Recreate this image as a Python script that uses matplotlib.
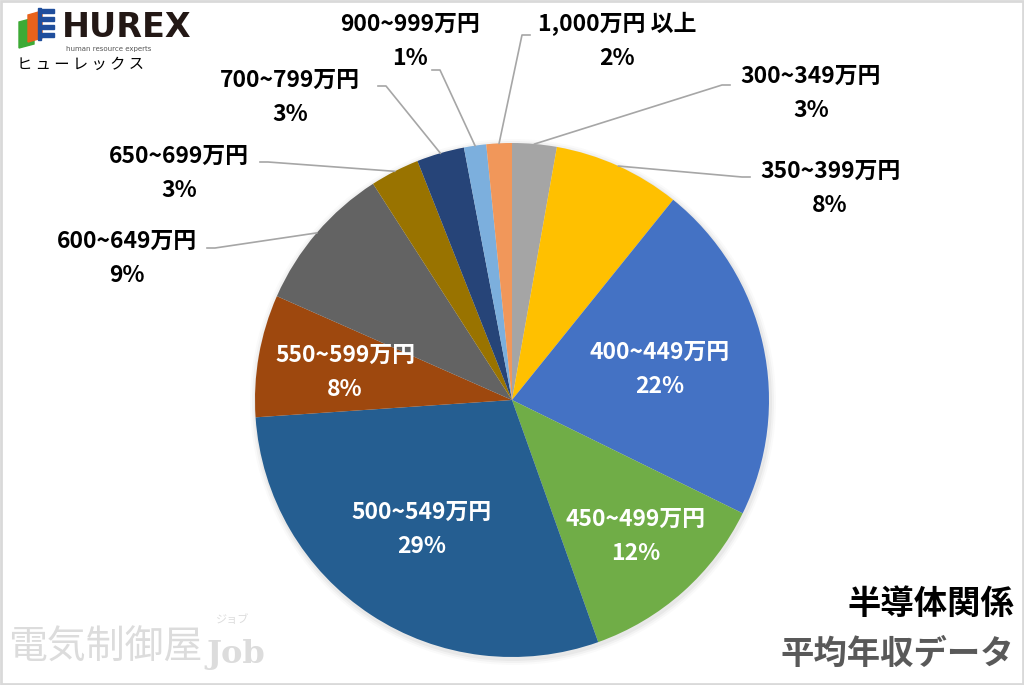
import matplotlib
matplotlib.use("Agg")
import matplotlib.pyplot as plt
from matplotlib.patches import Polygon, Rectangle, Circle
import numpy as np

plt.rcParams['font.family'] = ['Noto Sans CJK JP', 'DejaVu Sans']

categories = ["300~349万円", "350~399万円", "400~449万円", "450~499万円",
              "500~549万円", "550~599万円", "600~649万円", "650~699万円",
              "700~799万円", "900~999万円", "1,000万円 以上"]
values = [2.8, 8.0, 21.5, 12.3, 29.4, 7.7, 9.3, 3.1, 3.0, 1.4, 1.6]
pct_labels = ["3%", "8%", "22%", "12%", "29%", "8%", "9%", "3%", "3%", "1%", "2%"]
colors = ["#A5A5A5", "#FFC000", "#4472C4", "#70AD47", "#255E91", "#9E480E",
          "#636363", "#997300", "#264478", "#7CAFDD", "#F1975A"]

W, H = 1024, 685
fig = plt.figure(figsize=(W / 100, H / 100), dpi=100)
ax = fig.add_axes([0, 0, 1, 1])

def Y(y):
    return H - y

cx, cy, R = 512, Y(400), 257

# soft shadow
for i, a in enumerate([0.04, 0.03, 0.02]):
    ax.add_patch(Circle((cx + 1, cy - 2), R + 2 + 2 * i, color='black', alpha=a, zorder=1, lw=0))

wedges, _ = ax.pie(values, colors=colors, startangle=90, counterclock=False,
                   center=(cx, cy), radius=R, frame=True,
                   wedgeprops=dict(linewidth=0, zorder=2))
ax.set_xlim(0, W)
ax.set_ylim(0, H)
ax.set_aspect('equal')
ax.axis('off')

# label layout: (text x, text y in image px, inside?)
label_pos = [(811, 93, False), (830, 188, False), (660, 369, True), (636, 536, True),
             (422, 529, True), (345, 372, True), (127, 258, False), (179, 173, False),
             (290, 97, False), (410, 41, False), (617, 41, False)]
# leader line end near label (image px) and direction of short horizontal tick
leader_end = {0: ((722, 85), 8), 1: ((742, 177), 8), 6: ((215, 248), -8),
              7: ((268, 162), -8), 8: ((386, 86), -8), 9: ((440, 70), -8),
              10: ((522, 35), 8)}

fs = 16.5
for i, (w, (tx, ty, inside)) in enumerate(zip(wedges, label_pos)):
    txt = categories[i] + "\n" + pct_labels[i]
    col = 'white' if inside else 'black'
    ax.text(tx, Y(ty), txt, ha='center', va='center', fontsize=fs, fontweight='bold',
            color=col, linespacing=1.62, zorder=5)
    if not inside:
        ang = np.deg2rad((w.theta1 + w.theta2) / 2)
        px, py = cx + R * np.cos(ang), cy + R * np.sin(ang)
        (ex, ey), d = leader_end[i]
        ax.plot([px, ex, ex + d], [py, Y(ey), Y(ey)], color='#A6A6A6', lw=1.2, zorder=3)

# titles bottom right
ax.text(1014, Y(604), "半導体関係", ha='right', va='center', fontsize=24,
        fontweight='bold', color='black')
ax.text(1014, Y(654), "平均年収データ", ha='right', va='center', fontsize=24,
        fontweight='bold', color='#595959')

# watermark
ax.text(8, Y(648), "電気制御屋", ha='left', va='center', fontsize=28,
        color='#DCDCDC')
ax.text(206, Y(654), "Job", ha='left', va='center', fontsize=23, color='#DCDCDC',
        fontweight='bold', family=['DejaVu Serif'])
ax.text(216, Y(620), "ジョブ", ha='left', va='center', fontsize=8, color='#DCDCDC')

# logo
ax.add_patch(Polygon([(19, Y(22)), (34, Y(18)), (34, Y(44)), (19, Y(48))],
                     closed=True, color='#3DAA35', zorder=6))
ax.add_patch(Polygon([(28, Y(15)), (42, Y(11)), (42, Y(38)), (28, Y(42))],
                     closed=True, color='#E8621B', zorder=7))
for k in range(4):
    ax.add_patch(Rectangle((40, Y(9 + k * 8) - 4), 14, 4, color='#1F4E9C', zorder=8))
ax.add_patch(Rectangle((38, Y(40)), 3, 32, color='#1F4E9C', zorder=8))
ax.text(62, Y(27), "HUREX", ha='left', va='center', fontsize=24, fontweight='bold',
        color='#231815', family=['DejaVu Sans'])
ax.text(66, Y(49), "human resource experts", ha='left', va='center', fontsize=5,
        color='#555555', family=['DejaVu Sans'])
ax.text(17, Y(64), "ヒ ュ ー レ ッ ク ス", ha='left', va='center', fontsize=11,
        color='black')

# figure border
ax.add_patch(Rectangle((1, 1), W - 2, H - 2, fill=False, edgecolor='#D9D9D9', lw=2,
                       zorder=10))

fig.savefig("out.png", dpi=100)
